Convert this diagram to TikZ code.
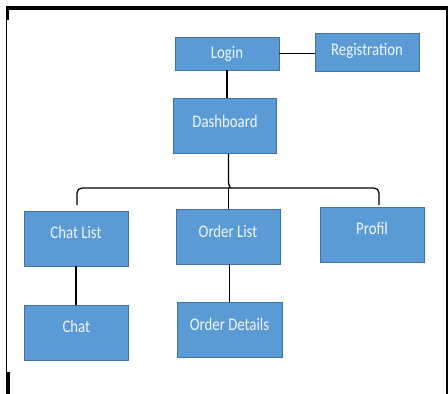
\documentclass[tikz,border=0pt]{standalone}
\usepackage{fontspec}
\setmainfont{Carlito}
\usetikzlibrary{calc}
\definecolor{boxfill}{HTML}{5B9BD5}
\definecolor{boxedge}{HTML}{41719C}
\definecolor{boxtextcol}{HTML}{F2F6FB}
% box captions are set slightly taller than the font's natural shape
\newcommand{\stretchtext}[1]{\scalebox{1.02}[1.22]{#1}}
\begin{document}
\begin{tikzpicture}[x=1pt,y=-1pt,
  box/.style={draw=boxedge, line width=0.8pt, fill=boxfill, rectangle,
    minimum width=104pt, minimum height=55pt, inner sep=0pt},
  boxtext/.style={text=boxtextcol, font=\fontsize{14.5}{17}\selectfont, inner sep=0pt},
  conn/.style={draw=black, line width=1.3pt},
  frame/.style={draw=black, line width=1.3pt}]
\useasboundingbox (0,0) rectangle (448,394);

% page frame
\draw[frame, line width=3.5pt] (6,8) -- (448,8);
\draw[frame] (6.6,8) -- (6.6,372);
\draw[frame, line width=3.5pt] (7.6,8) -- (7.6,20);
\draw[frame, line width=3.5pt] (8.2,372) -- (8.2,394);
\draw[frame] (447,8) -- (447,394);

% boxes
\node[box, minimum height=33pt, label={[boxtext]center:\stretchtext{Login}}] (login) at (227,53.5) {};
\node[box, minimum height=38pt, label={[boxtext, yshift=1pt]center:\stretchtext{Registration}}] (reg) at (367,52) {};
\node[box, minimum width=103pt, label={[boxtext, yshift=5pt]center:\stretchtext{Dashboard}}] (dash) at (225,126) {};
\node[box, label={[boxtext, yshift=6pt]center:\stretchtext{Chat List}}] (chatlist) at (76,238.5) {};
\node[box, label={[boxtext, yshift=5.5pt]center:\stretchtext{Order List}}] (orderlist) at (228,236.5) {};
\node[box, label={[boxtext, yshift=6pt]center:\stretchtext{Profil}}] (profil) at (372,234.5) {};
\node[box, label={[boxtext, yshift=6pt]center:\stretchtext{Chat}}] (chat) at (76.3,332.7) {};
\node[box, minimum width=105pt, label={[boxtext, yshift=5.5pt]center:\stretchtext{Order Details}}] (details) at (229.5,329.5) {};

% connector points
\coordinate (j) at (228.5,188);
\coordinate (bl) at (77,205);
\coordinate (br) at (379,205);

% connectors
\draw[conn] (login.east) -- (reg.west |- login.east);
\draw[conn] (login.south) -- (login.south |- dash.north);
\draw[conn] (dash.south -| j) -- ($(j)+(0,-6)$)
  .. controls ($(j)+(0,-2)$) and ($(j)+(1.5,-2)$) .. ($(j)+(2,0)$);
\draw[conn, rounded corners=5pt] (bl) |- (j) -| (br);
\draw[conn] (j) -- (j |- orderlist.north);
\draw[conn] (chatlist.south) -- (chatlist.south |- chat.north);
\draw[conn] (details.north |- orderlist.south) -- (details.north);
\end{tikzpicture}
\end{document}
